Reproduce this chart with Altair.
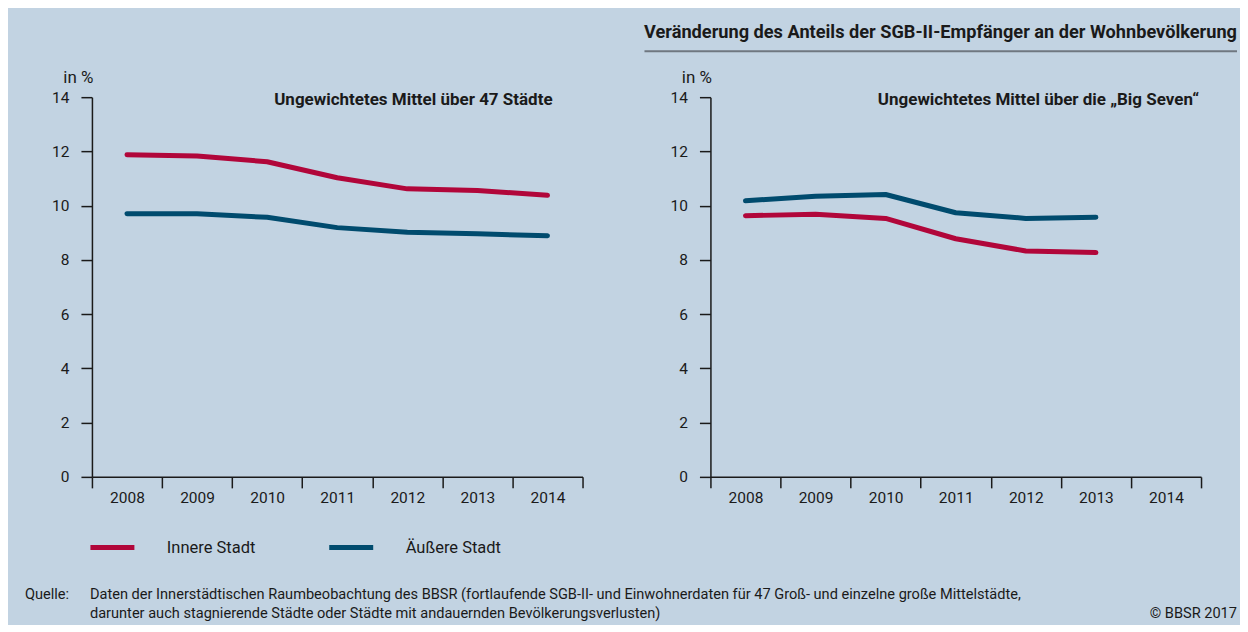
import altair as alt
import pandas as pd

# ---------------- data ----------------
YEARS = ["2008", "2009", "2010", "2011", "2012", "2013", "2014"]
SERIES = ["Innere Stadt", "Äußere Stadt"]
COLORS = ["#b1063a", "#004b6e"]

LEFT_INNER = [11.88, 11.83, 11.62, 11.03, 10.62, 10.56, 10.38]
LEFT_OUTER = [9.70, 9.70, 9.57, 9.19, 9.02, 8.96, 8.89]
RIGHT_INNER = [9.63, 9.68, 9.53, 8.78, 8.33, 8.27]
RIGHT_OUTER = [10.18, 10.35, 10.41, 9.74, 9.53, 9.57]

Y_TICKS = [0, 2, 4, 6, 8, 10, 12, 14]

TITLE = "Veränderung des Anteils der SGB-II-Empfänger an der Wohnbevölkerung"
SUB_LEFT = "Ungewichtetes Mittel über 47 Städte"
SUB_RIGHT = "Ungewichtetes Mittel über die „Big Seven“"
Y_TITLE = "in %"
SOURCE_LABEL = "Quelle:"
SOURCE_LINES = [
    "Daten der Innerstädtischen Raumbeobachtung des BBSR (fortlaufende SGB-II- und Einwohnerdaten für 47 Groß- und einzelne große Mittelstädte,",
    "darunter auch stagnierende Städte oder Städte mit andauernden Bevölkerungsverlusten)",
]
COPYRIGHT = "© BBSR 2017"

# ---------------- style ----------------
FONT = "Roboto, Liberation Sans, sans-serif"
BG = "#c2d3e2"
INK = "#1a1a1a"
W, H = 491, 380


def frame(inner, outer):
    rows = []
    for s, vals in zip(SERIES, [inner, outer]):
        for yr, v in zip(YEARS, vals):
            rows.append({"year": yr, "series": s, "value": v})
    return pd.DataFrame(rows)


legend = alt.Legend(
    title=None, orient="none", legendX=-4, legendY=426, direction="horizontal",
    symbolType="stroke", symbolStrokeWidth=5, symbolSize=1936, labelOffset=30,
    columnPadding=63, labelFontSize=16.5, labelFont=FONT, labelColor=INK, padding=0,
)


def text_layer(txt, x, y, size=16, bold=False, align="left", color=INK):
    return alt.Chart(pd.DataFrame({"t": [txt]})).mark_text(
        align=align, baseline="middle", font=FONT, fontSize=size,
        fontWeight="bold" if bold else "normal", color=color,
    ).encode(text="t:N", x=alt.value(x), y=alt.value(y))


def panel(df, extra):
    x = alt.X(
        "year:O",
        scale=alt.Scale(type="band", domain=YEARS, paddingInner=0, paddingOuter=0),
        bandPosition=0.5,
        axis=alt.Axis(title=None, tickBand="extent", labelAngle=0, labelPadding=3),
    )
    y = alt.Y(
        "value:Q",
        scale=alt.Scale(domain=[0, 14], nice=False),
        axis=alt.Axis(
            values=Y_TICKS, grid=False, labelPadding=12, title=Y_TITLE,
            titleAngle=0, titleAlign="right", titleBaseline="middle",
            titleX=1, titleY=-20, titleFont=FONT, titleFontSize=17,
            titleFontWeight="normal", titleColor=INK,
        ),
    )
    color = alt.Color("series:N", scale=alt.Scale(domain=SERIES, range=COLORS), legend=legend)
    lines = alt.Chart(df).mark_line(
        strokeWidth=5, strokeCap="round", strokeJoin="round"
    ).encode(x=x, y=y, color=color)
    return alt.layer(lines, *extra).properties(width=W, height=H)


left = panel(
    frame(LEFT_INNER, LEFT_OUTER),
    [
        text_layer(SUB_LEFT, 461, 3, size=17, bold=True, align="right"),
        text_layer(SOURCE_LABEL, -67, 498, size=14.6),
        text_layer(SOURCE_LINES[0], -2, 498, size=14.6),
        text_layer(SOURCE_LINES[1], -2, 517, size=14.6),
    ],
)

rule = alt.Chart(pd.DataFrame({"a": [0]})).mark_rule(
    color="#6f7780", strokeWidth=2
).encode(x=alt.value(-66), x2=alt.value(527), y=alt.value(-46))

right = panel(
    frame(RIGHT_INNER, RIGHT_OUTER),
    [
        text_layer(SUB_RIGHT, 489, 3, size=17, bold=True, align="right"),
        text_layer(TITLE, 527, -64, size=18.2, bold=True, align="right"),
        rule,
        text_layer(COPYRIGHT, 527, 517, size=14.6, align="right"),
    ],
)

chart = (
    alt.hconcat(left, right, spacing=128, bounds="flush")
    .resolve_scale(color="shared")
    .properties(background=BG, padding={"left": 17, "top": 15, "right": 2, "bottom": 4})
    .configure_view(stroke=None)
    .configure_axis(
        domainColor=INK, domainWidth=1.5, tickColor=INK, tickWidth=1.5, tickSize=11,
        labelFont=FONT, labelFontSize=15.5, labelColor=INK,
    )
)

chart.save("out.html", embed_options={"renderer": "svg", "actions": False})
